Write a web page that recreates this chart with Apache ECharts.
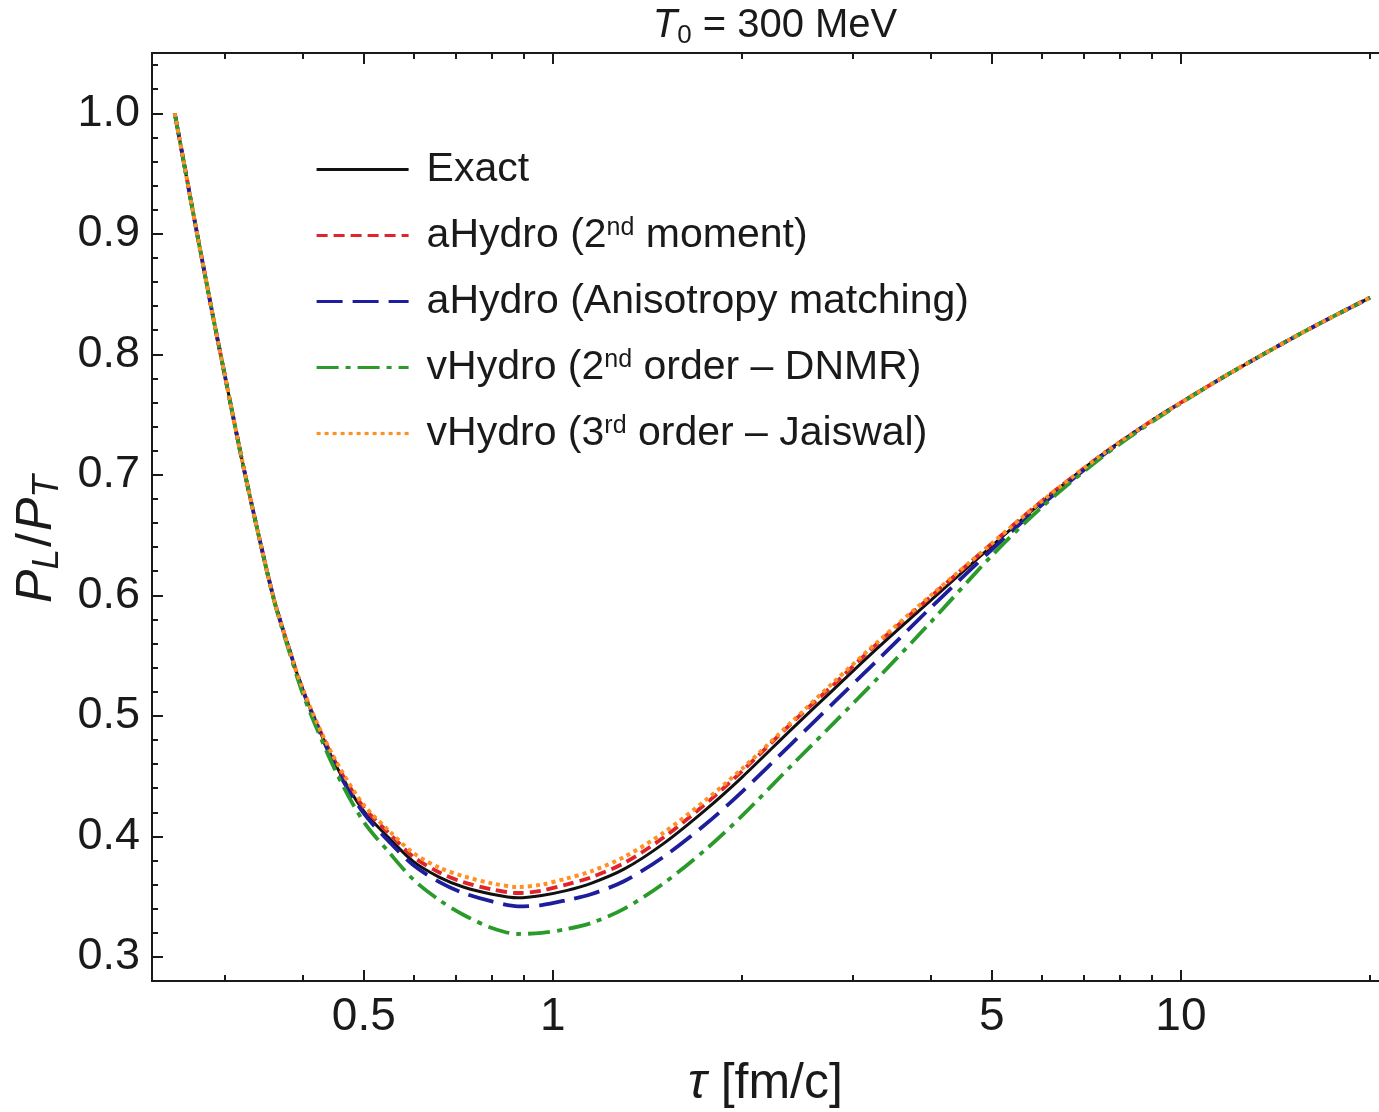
<!DOCTYPE html>
<html><head><meta charset="utf-8">
<script src="https://cdn.jsdelivr.net/npm/echarts@6/dist/echarts.min.js"></script>
<style>html,body{margin:0;padding:0;background:#fff;overflow:hidden}#c{width:1379px;height:1112px}</style>
</head><body><div id="c"></div>
<script>
// ---- data ----
const tau = [0.25, 0.26, 0.27, 0.28, 0.29, 0.30, 0.32, 0.34, 0.36, 0.38, 0.40, 0.43, 0.46, 0.50, 0.55, 0.60, 0.66, 0.72, 0.80, 0.88, 0.96, 1.05, 1.15, 1.30, 1.50, 1.75, 2.0, 2.4, 2.8, 3.3, 4.0, 5.0, 6.0, 7.5, 9.0, 11.0, 13.0, 16.0, 20.0];
const exact = [1.000, 0.952, 0.906, 0.863, 0.822, 0.784, 0.712, 0.650, 0.596, 0.556, 0.521, 0.482, 0.451, 0.421, 0.398, 0.379, 0.366, 0.358, 0.352, 0.349, 0.351, 0.355, 0.361, 0.373, 0.394, 0.422, 0.449, 0.489, 0.522, 0.557, 0.596, 0.641, 0.677, 0.717, 0.745, 0.773, 0.795, 0.821, 0.847];
const aHydro2nd = [1.000, 0.952, 0.906, 0.863, 0.822, 0.784, 0.712, 0.650, 0.596, 0.556, 0.521, 0.483, 0.453, 0.424, 0.402, 0.383, 0.370, 0.362, 0.356, 0.353, 0.355, 0.360, 0.366, 0.378, 0.399, 0.427, 0.454, 0.494, 0.526, 0.561, 0.599, 0.643, 0.678, 0.717, 0.745, 0.773, 0.795, 0.821, 0.847];
const aHydroAniso = [1.000, 0.952, 0.906, 0.863, 0.822, 0.784, 0.712, 0.650, 0.596, 0.556, 0.521, 0.481, 0.449, 0.419, 0.395, 0.376, 0.362, 0.353, 0.346, 0.342, 0.343, 0.347, 0.352, 0.363, 0.383, 0.410, 0.437, 0.477, 0.511, 0.547, 0.590, 0.638, 0.675, 0.716, 0.745, 0.773, 0.795, 0.821, 0.847];
const vHydroDNMR = [1.000, 0.952, 0.906, 0.863, 0.822, 0.784, 0.712, 0.650, 0.595, 0.554, 0.518, 0.478, 0.445, 0.412, 0.386, 0.364, 0.347, 0.335, 0.324, 0.319, 0.320, 0.323, 0.328, 0.340, 0.361, 0.389, 0.417, 0.459, 0.494, 0.532, 0.578, 0.633, 0.673, 0.715, 0.744, 0.773, 0.795, 0.821, 0.847];
const vHydroJaiswal = [1.000, 0.952, 0.906, 0.863, 0.822, 0.784, 0.712, 0.650, 0.596, 0.556, 0.522, 0.484, 0.455, 0.426, 0.404, 0.386, 0.374, 0.367, 0.361, 0.358, 0.360, 0.365, 0.371, 0.383, 0.403, 0.430, 0.456, 0.495, 0.528, 0.562, 0.600, 0.643, 0.678, 0.717, 0.745, 0.773, 0.795, 0.821, 0.847];
const seriesNames = ['Exact', 'aHydro (2nd moment)', 'aHydro (Anisotropy matching)', 'vHydro (2nd order \u2013 DNMR)', 'vHydro (3rd order \u2013 Jaiswal)'];
const legendLabels = ['Exact', 'aHydro (2{sup|nd} moment)', 'aHydro (Anisotropy matching)', 'vHydro (2{sup|nd} order \u2013 DNMR)', 'vHydro (3{sup|rd} order \u2013 Jaiswal)'];
const xMajorTicks = [0.5, 1, 5, 10];
const xMinorTicks = [0.3, 0.4, 0.6, 0.7, 0.8, 0.9, 2, 3, 4, 6, 7, 8, 9, 20];
const yMajorTicks = [0.3, 0.4, 0.5, 0.6, 0.7, 0.8, 0.9, 1.0];
const yMinorTicks = [0.28, 0.32, 0.34, 0.36, 0.38, 0.42, 0.44, 0.46, 0.48, 0.52, 0.54, 0.56, 0.58, 0.62, 0.64, 0.66, 0.68, 0.72, 0.74, 0.76, 0.78, 0.82, 0.84, 0.86, 0.88, 0.92, 0.94, 0.96, 0.98, 1.02, 1.04];
const xRange = [0.23, 20.67];
const yRange = [0.28, 1.05];

// ---- chart ----
const FONT = '"Liberation Sans", Arial, Helvetica, sans-serif';
const INK = '#1a1a1a';
const lg = v => Math.log10(v);
const fmtX = v => String(parseFloat(Math.pow(10, v).toPrecision(3)));

const chart = echarts.init(document.getElementById('c'), null, {renderer: 'canvas'});

function xAxisDef(position, ticks, len, withLabels) {
  return {
    type: 'value', position: position, gridIndex: 0,
    min: lg(xRange[0]), max: lg(xRange[1]),
    axisLine: {show: true, onZero: false, lineStyle: {color: INK, width: 2}},
    axisTick: {show: true, inside: true, length: len, customValues: ticks.map(lg), lineStyle: {color: INK, width: 2}},
    axisLabel: withLabels ? {show: true, customValues: ticks.map(lg), formatter: fmtX, fontSize: 46, fontFamily: FONT, color: INK, margin: 13} : {show: false},
    splitLine: {show: false}
  };
}
function yAxisDef(position, ticks, len, withLabels, showLine) {
  return {
    type: 'value', position: position, gridIndex: 0,
    min: yRange[0], max: yRange[1],
    axisLine: {show: showLine, onZero: false, lineStyle: {color: INK, width: 2}},
    axisTick: {show: len > 0, inside: true, length: len, customValues: ticks, lineStyle: {color: INK, width: 2}},
    axisLabel: withLabels ? {show: true, customValues: ticks, formatter: v => v.toFixed(1), fontSize: 45, fontFamily: FONT, color: INK, margin: 12} : {show: false},
    splitLine: {show: false}
  };
}

const xAxes = [
  Object.assign(xAxisDef('bottom', xMajorTicks, 11, true), {
    name: '{it|\u03c4} [fm/c]', nameLocation: 'middle', nameGap: 78,
    nameTextStyle: {fontSize: 50, fontFamily: FONT, color: INK, rich: {it: {fontSize: 50, fontStyle: 'italic', fontFamily: FONT, color: INK}}}
  }),
  xAxisDef('bottom', xMinorTicks, 6, false),
  xAxisDef('top', xMajorTicks, 11, false),
  xAxisDef('top', xMinorTicks, 6, false)
];
const yAxes = [
  Object.assign(yAxisDef('left', yMajorTicks, 11, true, true), {
    name: '{it|P}{sub|L}{up|/}{it|P}{sub|T}', nameLocation: 'middle', nameGap: 84, nameRotate: 90,
    nameTextStyle: {fontSize: 50, fontFamily: FONT, color: INK, padding: [0, 44, 0, 0], rich: {
      it: {fontSize: 50, fontStyle: 'italic', fontFamily: FONT, color: INK, lineHeight: 58},
      up: {fontSize: 50, fontFamily: FONT, color: INK, lineHeight: 58, padding: [0, 2, 0, 2]},
      sub: {fontSize: 37, fontStyle: 'italic', fontFamily: FONT, color: INK, lineHeight: 36, verticalAlign: 'bottom'}
    }}
  }),
  yAxisDef('left', yMinorTicks, 6, false, false)
];

const styles = [
  {color: '#111111', width: 3, type: 'solid'},
  {color: '#e0242c', width: 3.8, type: [11, 6]},
  {color: '#1e1e9c', width: 3.8, type: [26, 10]},
  {color: '#2a9a2a', width: 3.8, type: [22, 7, 5, 7]},
  {color: '#ff9024', width: 4, type: [4, 4]}
];
const values = [exact, aHydro2nd, aHydroAniso, vHydroDNMR, vHydroJaiswal];

const series = values.map((vals, k) => ({
  name: seriesNames[k], type: 'line', xAxisIndex: 0, yAxisIndex: 0,
  data: tau.map((t, i) => [lg(t), vals[i]]),
  symbol: 'none', smooth: 0.3, z: 2 + k,
  lineStyle: styles[k], itemStyle: {color: styles[k].color},
  emphasis: {disabled: true}, animation: false
}));

chart.setOption({
  animation: false,
  backgroundColor: '#ffffff',
  title: {
    text: '{it|T}{sub|0} = 300 MeV', left: 770, top: -2, textAlign: 'center',
    textStyle: {fontSize: 40, fontWeight: 'normal', fontFamily: FONT, color: INK, rich: {
      it: {fontSize: 40, fontStyle: 'italic', fontFamily: FONT, color: INK, lineHeight: 46},
      sub: {fontSize: 26, fontFamily: FONT, color: INK, lineHeight: 26, verticalAlign: 'bottom'}
    }}
  },
  grid: {left: 152, top: 53, width: 1227, height: 928, containLabel: false, outerBoundsMode: 'none'},
  legend: {
    orient: 'vertical', left: 315, top: 149, padding: 0, itemWidth: 92, itemHeight: 14, itemGap: 25,
    data: seriesNames, selectedMode: false,
    itemStyle: {opacity: 0},
    lineStyle: {width: 3.2},
    formatter: name => legendLabels[seriesNames.indexOf(name)],
    textStyle: {fontSize: 41, fontFamily: FONT, color: INK, lineHeight: 40, padding: [0, 0, 0, 13],
      rich: {sup: {fontSize: 25, fontFamily: FONT, color: INK, lineHeight: 22, verticalAlign: 'top'}}}
  },
  xAxis: xAxes,
  yAxis: yAxes,
  series: series
});
</script></body></html>
